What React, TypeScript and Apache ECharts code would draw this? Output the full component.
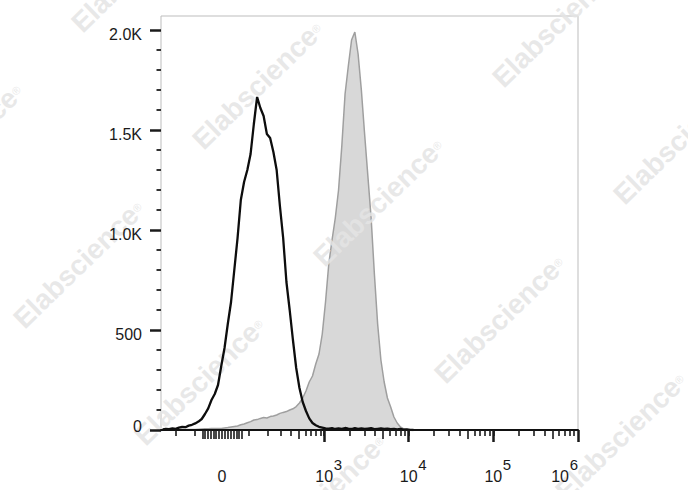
import React, { useEffect, useRef } from 'react';
import * as echarts from 'echarts';

// ---- display transform (biexponential-like axis) ----
const COFACTOR = 125;
const X_MIN_VALUE = -317;
const X_MAX_VALUE = 1e6;
const BIN_COUNT = 128;

// ---- histogram counts per display channel ----
const unstainedCounts = [
  3, 5, 4, 8, 6, 12, 15, 14, 22, 26,
  33, 42, 55, 80, 108, 150, 180, 225, 320, 410,
  530, 640, 800, 960, 1150, 1240, 1300, 1380, 1530, 1665,
  1610, 1570, 1480, 1460, 1390, 1300, 1120, 960, 740, 600,
  450, 310, 210, 140, 95, 58, 35, 24, 16, 12,
  8, 7, 9, 5, 8, 6, 10, 7, 5, 9,
  6, 8, 5, 7, 9, 4, 6, 8, 5, 7,
  4, 6, 3, 5, 2, 3, 1, 0,
];

const stainedCounts = [
  0, 0, 0, 0, 0, 0, 1, 2, 2, 3,
  3, 4, 5, 6, 6, 7, 8, 8, 8, 10,
  12, 15, 18, 20, 26, 30, 36, 42, 50, 52,
  58, 62, 60, 67, 70, 75, 83, 88, 92, 100,
  106, 117, 135, 160, 195, 240, 270, 330, 380, 480,
  640, 830, 950, 1060, 1200, 1420, 1680, 1820, 1950, 1990,
  1880, 1700, 1480, 1270, 1060, 780, 530, 350, 240, 160,
  115, 65, 35, 15, 6, 2, 0, 0,
];

// ---- axis ticks ----
const xLabelValues = [0, 1e3, 1e4, 1e5, 1e6];
const xLabelExponents = [null, 3, 4, 5, 6];
const xMajorTicks = [1e3, 1e4, 1e5, 1e6];
const xZeroClusterTicks = [-70, -60, -50, -40, -30, -20, -10, 0, 10, 20, 30, 40, 50, 60, 70];
const xHalfDecadeTicks = [500, 5e3, 5e4, 5e5];
const xNegativeTicks = [-200, -100];
const xDecades = [100, 1e3, 1e4, 1e5];
const xDecadeSteps = [1, 2, 3, 4, 6, 7, 8, 9];

const yMax = 2070;
const yMajorTicks = [0, 500, 1000, 1500, 2000];
const yMinorStep = 100;

const tf = (v: number) => Math.asinh(v / COFACTOR);
const uMin = tf(X_MIN_VALUE);
const uMax = tf(X_MAX_VALUE);
const du = (uMax - uMin) / BIN_COUNT;
const toSeries = (counts: number[]) => counts.map((c, i) => [uMin + (i + 0.5) * du, c]);

const minorTickValues: number[] = [...xNegativeTicks];
xDecades.forEach((d) => xDecadeSteps.forEach((s) => { if (s * d > 100 || d === 100) minorTickValues.push(s * d); }));

const yMinorTicks: number[] = [];
for (let v = yMinorStep; v < yMajorTicks[yMajorTicks.length - 1]; v += yMinorStep) {
  if (v % 500 !== 0) yMinorTicks.push(v);
}

const FONT = '"Liberation Sans", Arial, Helvetica, sans-serif';
const TEXT_COLOR = '#1a1a1a';
const TICK_COLOR = '#1a1a1a';

const baseXAxis = (extra: any) => ({
  type: 'value',
  min: uMin,
  max: uMax,
  position: 'bottom',
  splitLine: { show: false },
  axisLine: { show: false },
  axisLabel: { show: false },
  ...extra,
});

// ---- watermark lattice ----
const watermarks: any[] = [];
for (let i = -2; i <= 4; i++) {
  for (let j = -2; j <= 2; j++) {
    const cx = 258 + i * 121 + j * 179;
    const cy = 85 + i * 117 - j * 179;
    if (cx > -90 && cx < 780 && cy > -90 && cy < 580) {
      watermarks.push({
        type: 'text',
        x: cx,
        y: cy,
        rotation: 0.77,
        z: 3,
        silent: true,
        style: {
          text: '{a|Elabscience}{r|®}',
          align: 'center',
          verticalAlign: 'middle',
          rich: {
            a: { fontSize: 28, fontWeight: 'bold', fontFamily: FONT, fill: 'rgba(228,228,228,0.85)' },
            r: { fontSize: 11, fontFamily: FONT, fill: 'rgba(228,228,228,0.85)' },
          },
        },
      });
    }
  }
}

const renderXLabel = (params: any, api: any) => {
  const idx = api.value(2);
  const p = api.coord([api.value(0), 0]);
  const e = xLabelExponents[idx];
  const baseY = p[1] + 46;
  const supY = p[1] + 34;
  const isLast = idx === xLabelValues.length - 1;
  if (e === null) {
    return {
      type: 'text',
      x: p[0],
      y: baseY,
      style: { text: '0', fontSize: 16, fontFamily: FONT, fill: TEXT_COLOR, align: 'center', verticalAlign: 'middle' },
    };
  }
  const baseX = isLast ? p[0] - 9 : p[0];
  const supX = isLast ? p[0] : p[0] + 9.5;
  return {
    type: 'group',
    children: [
      {
        type: 'text',
        x: baseX,
        y: baseY,
        style: { text: '10', fontSize: 16, fontFamily: FONT, fill: TEXT_COLOR, align: isLast ? 'right' : 'center', verticalAlign: 'middle' },
      },
      {
        type: 'text',
        x: supX,
        y: supY,
        style: { text: String(e), fontSize: 15, fontFamily: FONT, fill: TEXT_COLOR, align: isLast ? 'right' : 'left', verticalAlign: 'middle' },
      },
    ],
  };
};

const option: any = {
  animation: false,
  backgroundColor: '#ffffff',
  grid: {
    left: 161,
    right: 110,
    top: 16,
    bottom: 60,
    show: true,
    borderColor: '#bdbdbd',
    borderWidth: 1,
    outerBoundsMode: 'none',
  },
  xAxis: [
    baseXAxis({
      axisLine: { show: true, onZero: false, lineStyle: { color: '#111', width: 2 } },
      axisTick: { show: true, customValues: xMajorTicks.map(tf), length: 12, lineStyle: { color: TICK_COLOR, width: 2.5 } },
      z: 6,
    }),
    baseXAxis({
      axisTick: { show: true, customValues: [...xZeroClusterTicks, ...xHalfDecadeTicks].map(tf), length: 9, lineStyle: { color: TICK_COLOR, width: 1.6 } },
      z: 6,
    }),
    baseXAxis({
      axisTick: { show: true, customValues: minorTickValues.map(tf), length: 6, lineStyle: { color: TICK_COLOR, width: 1.6 } },
      z: 6,
    }),
  ],
  yAxis: [
    {
      type: 'value',
      min: 0,
      max: yMax,
      position: 'left',
      splitLine: { show: false },
      axisLine: { show: false, onZero: false },
      axisTick: { show: true, customValues: yMajorTicks, length: 11, lineStyle: { color: TICK_COLOR, width: 2.5 } },
      axisLabel: {
        customValues: yMajorTicks,
        margin: 19,
        fontSize: 16,
        lineHeight: 8,
        fontFamily: FONT,
        color: TEXT_COLOR,
        verticalAlign: 'top',
        verticalAlignMinLabel: 'bottom',
        formatter: (v: number) => (v >= 1000 ? (v / 1000).toFixed(1) + 'K' : String(v)),
      },
      z: 6,
    },
    {
      type: 'value',
      min: 0,
      max: yMax,
      position: 'left',
      offset: 0,
      splitLine: { show: false },
      axisLine: { show: false, onZero: false },
      axisLabel: { show: false },
      axisTick: { show: true, customValues: yMinorTicks, length: 4.5, lineStyle: { color: '#333', width: 2 } },
      z: 6,
    },
  ],
  graphic: watermarks,
  series: [
    {
      type: 'line',
      name: 'stained',
      data: toSeries(stainedCounts),
      symbol: 'none',
      smooth: false,
      lineStyle: { color: '#9f9f9f', width: 1.5 },
      areaStyle: { color: '#d8d8d8', opacity: 1 },
      z: 2,
      silent: true,
    },
    {
      type: 'line',
      name: 'unstained',
      data: toSeries(unstainedCounts),
      symbol: 'none',
      smooth: false,
      lineStyle: { color: '#0d0d0d', width: 2.3 },
      z: 5,
      silent: true,
    },
    {
      type: 'custom',
      name: 'xLabels',
      coordinateSystem: 'cartesian2d',
      data: xLabelValues.map((v, i) => [tf(v), 0, i]),
      renderItem: renderXLabel,
      clip: false,
      silent: true,
      z: 6,
    },
  ],
};

export default function App() {
  const ref = useRef<HTMLDivElement>(null);
  useEffect(() => {
    const chart = echarts.init(ref.current as HTMLDivElement, null, { renderer: 'svg' });
    chart.setOption(option);
    return () => chart.dispose();
  }, []);
  return (
    <div
      ref={ref}
      style={{ position: 'fixed', left: 0, top: 0, width: 688, height: 490, background: '#fff' }}
    />
  );
}
